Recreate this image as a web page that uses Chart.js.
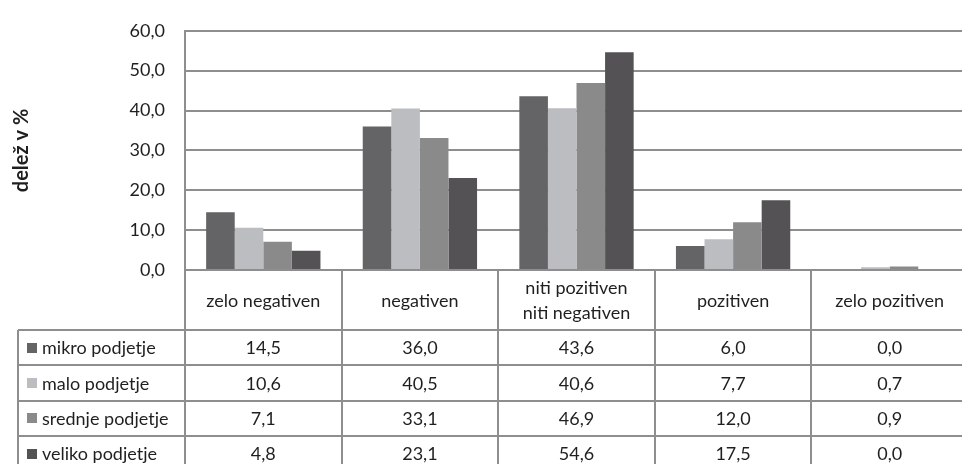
<!DOCTYPE html>
<html>
<head>
<meta charset="utf-8">
<script src="https://cdn.jsdelivr.net/npm/chart.js@4"></script>
<style>
  html, body { margin: 0; padding: 0; background: #fff; overflow: hidden; }
  #wrap { width: 972px; height: 480px; position: relative; }
</style>
</head>
<body>
<div id="wrap"><canvas id="chart"></canvas></div>
<script>
// Chart data
const categories = [['zelo negativen'], ['negativen'], ['niti pozitiven', 'niti negativen'], ['pozitiven'], ['zelo pozitiven']];
const seriesNames = ['mikro podjetje', 'malo podjetje', 'srednje podjetje', 'veliko podjetje'];
const mikro = [14.5, 36.0, 43.6, 6.0, 0.0];
const malo = [10.6, 40.5, 40.6, 7.7, 0.7];
const srednje = [7.1, 33.1, 46.9, 12.0, 0.9];
const veliko = [4.8, 23.1, 54.6, 17.5, 0.0];
const yTicks = [0, 10, 20, 30, 40, 50, 60];
const yTitle = 'delež v %';

const colors = ['#646365', '#bcbdc0', '#8a8a8b', '#545255'];
const lineColor = '#8e8e8e';
const textColor = '#1f1f1f';
const fontFam = 'Lato, "Open Sans", sans-serif';

const fmt = (v) => Number(v).toFixed(1).replace('.', ',');

// data table under the plot, positioned from the x scale
const tablePlugin = {
    id: 'dataTable',
    afterDraw(chart) {
        const ctx = chart.ctx;
        const xs = chart.scales.x;
        const area = chart.chartArea;
        const n = categories.length;
        const colW = (xs.right - xs.left) / n;
        const top = area.bottom;
        const headH = 60;
        const rowH = 35.3;
        const legendLeft = 18;
        const bottom = top + headH + rowH * seriesNames.length;
        const allData = [mikro, malo, srednje, veliko];

        ctx.save();
        ctx.strokeStyle = lineColor;
        ctx.lineWidth = 2;

        // horizontal lines
        ctx.beginPath();
        for (let r = 0; r <= seriesNames.length; r++) {
            const y = Math.round(top + headH + r * rowH);
            ctx.moveTo(legendLeft, y);
            ctx.lineTo(xs.right, y);
        }
        // vertical lines
        for (let i = 0; i <= n; i++) {
            const x = Math.round(xs.left + i * colW);
            ctx.moveTo(x, top);
            ctx.lineTo(x, bottom);
        }
        ctx.moveTo(legendLeft, top + headH);
        ctx.lineTo(legendLeft, bottom);
        ctx.stroke();

        ctx.fillStyle = textColor;
        ctx.font = '18px ' + fontFam;
        ctx.textAlign = 'center';
        ctx.textBaseline = 'middle';

        // header labels
        categories.forEach((lines, i) => {
            const cx = xs.getPixelForValue(i);
            const cy = top + headH / 2 + 1;
            const lh = 25;
            lines.forEach((t, k) => {
                ctx.fillText(t, cx, cy + (k - (lines.length - 1) / 2) * lh);
            });
        });

        // rows
        seriesNames.forEach((name, r) => {
            const cy = top + headH + r * rowH + rowH / 2 + 1;
            ctx.fillStyle = colors[r];
            ctx.fillRect(27, Math.round(cy - 6), 10, 10);
            ctx.fillStyle = textColor;
            ctx.textAlign = 'left';
            ctx.fillText(name, 42, cy);
            ctx.textAlign = 'center';
            allData[r].forEach((v, i) => {
                ctx.fillText(fmt(v), xs.getPixelForValue(i), cy);
            });
        });
        ctx.restore();
    }
};

const ctx = document.getElementById('chart').getContext('2d');
new Chart(ctx, {
    type: 'bar',
    data: {
        labels: categories.map(c => c.join(' ')),
        datasets: seriesNames.map((name, i) => ({
            label: name,
            data: [mikro, malo, srednje, veliko][i],
            backgroundColor: colors[i],
            borderWidth: 0,
            categoryPercentage: 0.73,
            barPercentage: 1.0
        }))
    },
    options: {
        responsive: true,
        maintainAspectRatio: false,
        animation: false,
        layout: { padding: { left: 4, top: 24, right: 4, bottom: 210 } },
        plugins: {
            legend: { display: false },
            tooltip: { enabled: false }
        },
        scales: {
            x: { display: false },
            y: {
                min: 0,
                max: 60,
                afterBuildTicks: (scale) => { scale.ticks = yTicks.map(v => ({ value: v })); },
                afterFit: (scale) => { scale.width = 181; },
                ticks: {
                    color: textColor,
                    padding: 20,
                    font: { family: fontFam, size: 18 },
                    callback: (v) => fmt(v)
                },
                grid: { color: lineColor, lineWidth: 2, drawTicks: false },
                border: { display: true, color: lineColor, width: 2 },
                title: {
                    display: true,
                    text: yTitle,
                    color: textColor,
                    font: { family: fontFam, size: 20, weight: 'bold' },
                    padding: { top: 6, bottom: 0 }
                }
            }
        }
    },
    plugins: [tablePlugin]
});
</script>
</body>
</html>
